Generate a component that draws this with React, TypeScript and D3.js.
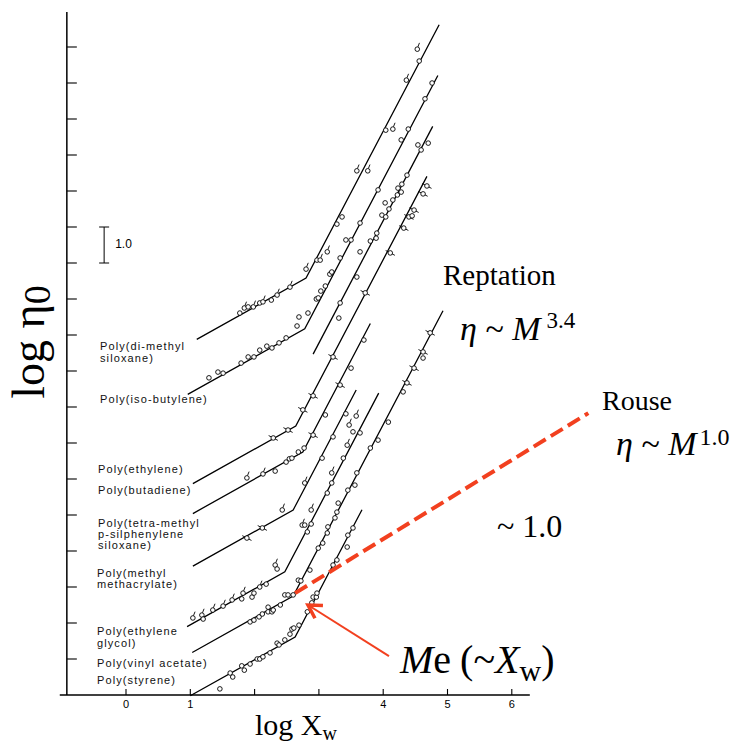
import React from 'react';
import * as d3 from 'd3';

// ---------- axis values ----------
const X_TICKS = [0, 1, 2, 3, 4, 5, 6];
const X_TICK_LABELS = ['0', '1', '', '', '4', '5', '6'];
const Y_TICKS = [1, 2, 3, 4, 5, 6, 7, 8, 9, 10, 11, 12, 13, 14, 15, 16, 17, 18];
const X_EXTENT = [-1.03, 6.28];
const Y_EXTENT = [0, 18.97];
const Y_AXIS_AT = -0.92;

// ---------- fitted lines (log Xw, shifted log eta) ----------
const ROUSE_SLOPE = 1.0;
const REPTATION_SLOPE = 3.4;
const LINE_NAMES = ['PDMS', 'PIB', 'PMMA', 'PE', 'PB', 'TMPS', 'PEG', 'PVAc', 'PS'];
const LINE_X0 = [1.10, 0.96, 2.91, 1.04, 1.04, 1.04, 0.95, 1.03, 1.00];
const LINE_XC = [2.80, 2.78, 2.91, 2.64, 2.75, 2.60, 2.47, 2.60, 2.63];
const LINE_YC = [11.58, 10.17, 9.47, 7.47, 6.75, 5.14, 3.42, 2.75, 1.61];
const LINE_X1 = [4.87, 4.85, 4.77, 4.68, 3.80, 3.58, 3.93, 4.93, 3.67];

// ---------- data points [logXw, logEta, marker] ----------
type Pt = [number, number, string];
const PDMS_PTS: Pt[] = [
  [1.77, 10.61, 'o'], [1.84, 10.75, 'd'], [1.90, 10.78, 'o'], [1.98, 10.78, 'd'], [2.08, 10.89, 'o'],
  [2.13, 10.92, 'd'], [2.26, 10.97, 'o'], [2.35, 11.11, 'd'], [2.55, 11.33, 'd'], [2.80, 11.83, 'd'],
  [2.97, 12.08, 'o'], [3.02, 12.08, 'd'], [3.13, 12.31, 'd'], [3.28, 13.08, 'o'], [3.36, 13.28, 'o'],
  [3.59, 14.56, 'd'], [3.76, 14.56, 'd'], [4.04, 15.69, 'o'], [4.15, 15.72, 'd'], [4.36, 17.08, 'd'],
  [4.53, 17.94, 'd'], [4.56, 17.61, 'o'],
];
const PIB_PTS: Pt[] = [
  [1.29, 8.81, 'o'], [1.43, 8.97, 'o'], [1.51, 8.94, 'o'], [1.79, 9.22, 'o'], [1.90, 9.39, 'o'],
  [1.99, 9.39, 'o'], [2.08, 9.58, 'o'], [2.19, 9.69, 'o'], [2.27, 9.64, 'o'], [2.38, 9.78, 'o'],
  [2.49, 9.92, 'o'], [2.66, 10.25, 'o'], [2.69, 10.50, 'o'], [2.83, 10.61, 'o'], [2.96, 11.00, 'o'],
  [2.99, 11.03, 'o'], [3.03, 11.22, 'o'], [3.10, 11.36, 'o'], [3.17, 11.69, 'o'], [3.20, 11.75, 'o'],
  [3.33, 12.14, 'o'], [3.42, 12.64, 'o'], [3.50, 12.64, 'o'], [3.64, 13.11, 'o'], [3.92, 14.03, 'o'],
  [4.28, 15.42, 'o'], [4.39, 15.72, 'o'], [4.65, 16.56, 'o'], [4.76, 17.00, 'o'],
];
const PMMA_PTS: Pt[] = [
  [3.31, 10.47, 'o'], [3.33, 10.89, 'o'], [3.59, 11.61, 'o'], [3.64, 12.31, 'o'], [3.80, 12.61, 'o'],
  [3.89, 12.69, 'o'], [3.90, 12.83, 'o'], [3.98, 13.33, 'o'], [4.04, 13.28, 'o'], [4.03, 13.67, 'o'],
  [4.09, 13.50, 'o'], [4.15, 13.75, 'o'], [4.22, 13.89, 'o'], [4.28, 13.97, 'o'], [4.23, 14.08, 'o'],
  [4.29, 14.19, 'o'], [4.37, 14.44, 'o'], [4.54, 15.28, 'o'], [4.59, 15.14, 'o'], [4.70, 15.33, 'o'],
];
const PE_PTS: Pt[] = [
  [2.29, 7.14, 't'], [2.52, 7.36, 't'], [2.75, 7.92, 't'], [2.91, 8.31, 't'], [3.22, 9.39, 't'],
  [3.72, 11.17, 't'], [4.11, 12.28, 't'], [4.32, 12.97, 't'], [4.40, 13.28, 't'], [4.45, 13.31, 'o'],
  [4.48, 13.47, 't'], [4.62, 13.92, 't'], [4.68, 14.14, 't'],
];
const PB_PTS: Pt[] = [
  [1.88, 6.03, 'd'], [2.13, 6.14, 'd'], [2.32, 6.22, 'o'], [2.49, 6.47, 'o'], [2.54, 6.56, 'o'],
  [2.58, 6.58, 'o'], [2.68, 6.75, 'o'], [2.77, 6.86, 'o'], [2.91, 7.22, 't'], [3.10, 7.78, 'o'],
  [3.33, 8.61, 't'], [3.50, 9.08, 'o'], [3.70, 9.86, 'o'],
];
const TMPS_PTS: Pt[] = [
  [1.88, 4.36, 't'], [2.12, 4.64, 't'], [2.43, 5.14, 'd'], [2.78, 5.89, 'd'], [3.05, 6.58, 'o'],
  [3.22, 7.17, 'o'], [3.42, 7.81, 'o'], [3.47, 7.50, 'd'], [3.58, 7.75, 'd'],
];
const PEG_PTS: Pt[] = [
  [1.04, 2.14, 'd'], [1.18, 2.22, 'd'], [1.20, 2.11, 'o'], [1.35, 2.36, 'd'], [1.51, 2.47, 'd'],
  [1.65, 2.64, 'd'], [1.80, 2.67, 'o'], [1.82, 2.83, 'd'], [1.96, 2.72, 'o'], [1.99, 2.83, 'o'],
  [2.08, 3.00, 'd'], [2.18, 3.08, 'o'], [2.32, 3.61, 'd'], [2.35, 3.50, 'o'], [2.74, 4.72, 'd'],
  [2.78, 4.72, 'o'], [2.82, 4.53, 'o'], [2.88, 5.14, 'd'], [2.88, 4.75, 'o'], [3.13, 5.61, 'o'],
  [3.20, 5.89, 'o'], [3.20, 6.17, 'd'], [3.38, 6.58, 'o'], [3.44, 6.94, 'd'], [3.53, 7.31, 'o'],
  [3.64, 7.28, 'o'],
];
const PVAC_PTS: Pt[] = [
  [1.93, 2.03, 'o'], [1.99, 2.08, 'o'], [2.07, 2.17, 'o'], [2.12, 2.25, 'o'], [2.21, 2.31, 'o'],
  [2.27, 2.31, 'o'], [2.21, 2.44, 'o'], [2.29, 2.36, 'o'], [2.40, 2.50, 'o'], [2.47, 2.78, 'o'],
  [2.52, 2.78, 'o'], [2.60, 2.78, 'o'], [2.68, 3.19, 'o'], [2.72, 3.17, 'o'], [2.86, 3.47, 'o'],
  [2.99, 4.08, 'o'], [3.06, 4.22, 'o'], [3.13, 4.50, 'o'], [3.14, 4.67, 'o'], [3.25, 4.92, 'o'],
  [3.28, 5.08, 'o'], [3.30, 5.33, 'o'], [3.45, 5.69, 'o'], [3.56, 5.83, 'o'], [3.59, 6.17, 'o'],
  [3.80, 6.86, 'o'], [3.92, 7.08, 'o'], [4.08, 7.58, 'o'], [4.31, 8.42, 'o'], [4.37, 8.67, 't'],
  [4.48, 9.08, 't'], [4.62, 9.36, 'o'], [4.62, 9.53, 't'], [4.73, 10.06, 't'],
];
const PS_PTS: Pt[] = [
  [1.46, 0.17, 'o'], [1.62, 0.61, 'o'], [1.66, 0.50, 'o'], [1.80, 0.81, 'o'], [1.84, 0.69, 'o'],
  [1.93, 0.86, 'o'], [2.04, 1.00, 'o'], [2.08, 1.00, 'o'], [2.13, 1.06, 'o'], [2.24, 1.17, 'o'],
  [2.35, 1.44, 'o'], [2.38, 1.39, 'o'], [2.47, 1.53, 'o'], [2.55, 1.69, 'o'], [2.58, 1.83, 'o'],
  [2.61, 1.86, 'o'], [2.69, 1.94, 'o'], [2.82, 2.31, 'o'], [2.89, 2.56, 'o'], [2.91, 2.72, 'o'],
  [2.96, 2.72, 'o'], [2.97, 2.83, 'o'], [3.22, 3.61, 'o'], [3.28, 3.75, 'o'], [3.44, 4.11, 'o'],
  [3.45, 4.44, 'o'], [3.53, 4.64, 'o'],
];
const ALL_POINTS: Pt[][] = [PDMS_PTS, PIB_PTS, PMMA_PTS, PE_PTS, PB_PTS, TMPS_PTS, PEG_PTS, PVAC_PTS, PS_PTS];

// ---------- annotations ----------
const ROUSE_GUIDE_X = [2.63, 7.19];
const ROUSE_GUIDE_Y = [2.83, 7.83];
const ARROW_FROM = [4.09, 1.08];
const ARROW_TO = [2.83, 2.5];
const SCALE_BAR = [12, 13];
const SCALE_BAR_X = -0.34;

const POLYMER_LABELS = [
  ['Poly(di-methyl', 'siloxane)'],
  ['Poly(iso-butylene)'],
  ['Poly(ethylene)'],
  ['Poly(butadiene)'],
  ['Poly(tetra-methyl', 'p-silphenylene', 'siloxane)'],
  ['Poly(methyl', 'methacrylate)'],
  ['Poly(ethylene', 'glycol)'],
  ['Poly(vinyl acetate)'],
  ['Poly(styrene)'],
];
const LABEL_LAYOUT = [
  { x: 100, y: 350, lh: 12 },
  { x: 100, y: 403, lh: 12 },
  { x: 98, y: 473, lh: 12 },
  { x: 98, y: 494, lh: 12 },
  { x: 98, y: 527, lh: 11.2 },
  { x: 97, y: 577, lh: 11.2 },
  { x: 97, y: 635, lh: 12 },
  { x: 97, y: 667, lh: 12 },
  { x: 97, y: 684, lh: 12 },
];

const SERIF = '"Liberation Serif", "Times New Roman", Times, serif';
const SANS = '"Liberation Sans", Arial, Helvetica, sans-serif';
const RED = '#f2401f';

export default function App() {
  const W = 751;
  const H = 747;
  const x = d3.scaleLinear().domain([0, 6]).range([126, 511.8]);
  const y = d3.scaleLinear().domain([0, 18]).range([695, 47]);

  const lineGen = d3
    .line<[number, number]>()
    .x((d) => x(d[0]))
    .y((d) => y(d[1]));

  const fitPaths = LINE_NAMES.map((name, i) => {
    const xc = LINE_XC[i];
    const yc = LINE_YC[i];
    const pts: [number, number][] = [];
    if (LINE_X0[i] < xc) pts.push([LINE_X0[i], yc - ROUSE_SLOPE * (xc - LINE_X0[i])]);
    pts.push([xc, yc]);
    pts.push([LINE_X1[i], yc + REPTATION_SLOPE * (LINE_X1[i] - xc)]);
    return { name, d: lineGen(pts) as string };
  });

  const r = 2.3;
  const renderMarker = (p: Pt, k: string) => {
    const cx = x(p[0]);
    const cy = y(p[1]);
    return (
      <g key={k}>
        {p[2] === 'd' && (
          <line x1={cx + 0.6} y1={cy - r} x2={cx + 2.2} y2={cy - r - 4} stroke="#000" strokeWidth={0.9} />
        )}
        {p[2] === 't' && (
          <line x1={cx - 4.6} y1={cy - 2.4} x2={cx + 4.6} y2={cy + 2.4} stroke="#000" strokeWidth={0.9} />
        )}
        <circle cx={cx} cy={cy} r={r} fill="#fff" stroke="#000" strokeWidth={0.9} />
      </g>
    );
  };

  // arrow geometry
  const ax1 = x(ARROW_FROM[0]);
  const ay1 = y(ARROW_FROM[1]);
  const ax2 = x(ARROW_TO[0]);
  const ay2 = y(ARROW_TO[1]);
  const ang = Math.atan2(ay1 - ay2, ax1 - ax2);
  const headLen = 15;
  const spread = (30 * Math.PI) / 180;
  const h1 = [ax2 + headLen * Math.cos(ang - spread), ay2 + headLen * Math.sin(ang - spread)];
  const h2 = [ax2 + headLen * Math.cos(ang + spread), ay2 + headLen * Math.sin(ang + spread)];

  const axisX = x(Y_AXIS_AT);

  return (
    <svg
      width={W}
      height={H}
      viewBox={`0 0 ${W} ${H}`}
      style={{ position: 'absolute', left: 0, top: 0, background: '#fff' }}
    >
      <rect x={0} y={0} width={W} height={H} fill="#fff" />

      {/* axes */}
      <line x1={axisX} y1={y(Y_EXTENT[0])} x2={axisX} y2={y(Y_EXTENT[1])} stroke="#000" strokeWidth={1.5} />
      <line x1={x(X_EXTENT[0])} y1={y(0)} x2={x(X_EXTENT[1])} y2={y(0)} stroke="#000" strokeWidth={1.5} />
      {Y_TICKS.map((t) => (
        <line key={'yt' + t} x1={axisX} x2={axisX + 10} y1={y(t)} y2={y(t)} stroke="#000" strokeWidth={1.1} />
      ))}
      {X_TICKS.map((t, i) => (
        <g key={'xt' + t}>
          <line x1={x(t)} x2={x(t)} y1={y(0)} y2={y(0) - 6} stroke="#000" strokeWidth={1.1} />
          {X_TICK_LABELS[i] && (
            <text x={x(t)} y={708} textAnchor="middle" fontFamily={SANS} fontSize={11}>
              {X_TICK_LABELS[i]}
            </text>
          )}
        </g>
      ))}

      {/* scale bar */}
      <line x1={x(SCALE_BAR_X)} x2={x(SCALE_BAR_X)} y1={y(SCALE_BAR[0])} y2={y(SCALE_BAR[1])} stroke="#000" strokeWidth={1} />
      <line x1={x(SCALE_BAR_X) - 5} x2={x(SCALE_BAR_X) + 5} y1={y(SCALE_BAR[0])} y2={y(SCALE_BAR[0])} stroke="#000" strokeWidth={1} />
      <line x1={x(SCALE_BAR_X) - 5} x2={x(SCALE_BAR_X) + 5} y1={y(SCALE_BAR[1])} y2={y(SCALE_BAR[1])} stroke="#000" strokeWidth={1} />
      <text x={x(SCALE_BAR_X) + 11} y={248} fontFamily={SANS} fontSize={12}>1.0</text>

      {/* fitted lines */}
      {fitPaths.map((p) => (
        <path key={p.name} d={p.d} fill="none" stroke="#000" strokeWidth={1.3} />
      ))}

      {/* points */}
      {ALL_POINTS.map((arr, si) => arr.map((p, pi) => renderMarker(p, `${si}-${pi}`)))}

      {/* polymer labels */}
      {POLYMER_LABELS.map((lines, i) => (
        <text key={'lab' + i} fontFamily={SANS} fontSize={11} letterSpacing={1.1} fill="#111">
          {lines.map((ln, j) => (
            <tspan key={j} x={LABEL_LAYOUT[i].x} y={LABEL_LAYOUT[i].y + j * LABEL_LAYOUT[i].lh}>
              {ln}
            </tspan>
          ))}
        </text>
      ))}

      {/* Rouse guide */}
      <line
        x1={x(ROUSE_GUIDE_X[0])}
        y1={y(ROUSE_GUIDE_Y[0])}
        x2={x(ROUSE_GUIDE_X[1])}
        y2={y(ROUSE_GUIDE_Y[1])}
        stroke={RED}
        strokeWidth={4}
        strokeDasharray="14 6"
      />

      {/* arrow */}
      <line x1={ax1} y1={ay1} x2={ax2} y2={ay2} stroke={RED} strokeWidth={2} />
      <polyline
        points={`${h1[0]},${h1[1]} ${ax2},${ay2} ${h2[0]},${h2[1]}`}
        fill="none"
        stroke={RED}
        strokeWidth={3.5}
        strokeLinejoin="miter"
      />

      {/* annotation texts */}
      <text x={443} y={285} fontFamily={SERIF} fontSize={29}>Reptation</text>
      <text x={460} y={340} fontFamily={SERIF} fontSize={34}>
        <tspan fontStyle="italic">η</tspan>
        <tspan> ~ </tspan>
        <tspan fontStyle="italic">M</tspan>
        <tspan fontSize={23} dx={6} dy={-12}>3.4</tspan>
      </text>
      <text x={602} y={410} fontFamily={SERIF} fontSize={28}>Rouse</text>
      <text x={616} y={455} fontFamily={SERIF} fontSize={34}>
        <tspan fontStyle="italic">η</tspan>
        <tspan> ~ </tspan>
        <tspan fontStyle="italic">M</tspan>
        <tspan fontSize={24} dx={3} dy={-10}>1.0</tspan>
      </text>
      <text x={497} y={537} fontFamily={SERIF} fontSize={32}>~ 1.0</text>
      <text x={400} y={673} fontFamily={SERIF} fontSize={40}>
        <tspan fontStyle="italic">M</tspan>
        <tspan>e</tspan>
        <tspan dx={9}>(~</tspan>
        <tspan fontStyle="italic">X</tspan>
        <tspan fontSize={30} dy={8}>w</tspan>
        <tspan dy={-8}>)</tspan>
      </text>

      {/* axis titles */}
      <text x={255} y={735} fontFamily={SERIF} fontSize={30}>
        log X<tspan fontSize={20} dy={5}>w</tspan>
      </text>
      <text
        transform={`translate(44, 342) rotate(-90)`}
        textAnchor="middle"
        fontFamily={SERIF}
        fontSize={46}
      >
        log η<tspan fontSize={38} dy={6}>0</tspan>
      </text>
    </svg>
  );
}
